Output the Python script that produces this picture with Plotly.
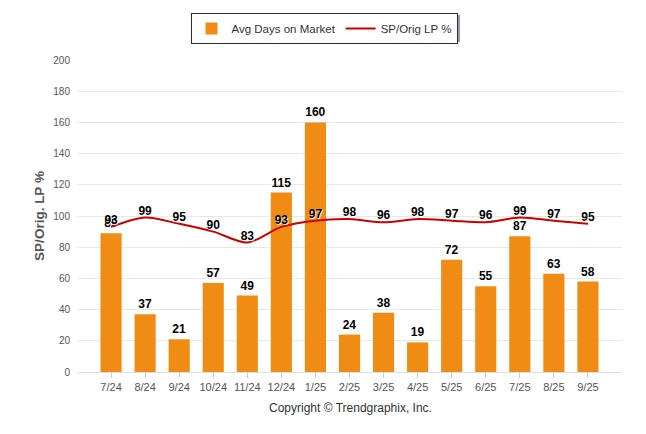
import plotly.graph_objects as go

months = ["7/24", "8/24", "9/24", "10/24", "11/24", "12/24", "1/25", "2/25",
          "3/25", "4/25", "5/25", "6/25", "7/25", "8/25", "9/25"]
avg_days = [89, 37, 21, 57, 49, 115, 160, 24, 38, 19, 72, 55, 87, 63, 58]
sp_orig_lp = [93, 99, 95, 90, 83, 93, 97, 98, 96, 98, 97, 96, 99, 97, 95]

xs = list(range(len(months)))

OFF = 8  # default page body margin
W, H = 646 - OFF, 434 - OFF
ml, mr, mt, mb = 77 - OFF, 24, 60 - OFF, 62

def px2paper_x(px):
    return (px - OFF - ml) / (W - ml - mr)

def px2paper_y(py):
    return (H - mb - (py - OFF)) / (H - mt - mb)

fig = go.Figure()
fig.add_trace(go.Bar(
    x=xs, y=avg_days, name="Avg Days on Market",
    marker=dict(color="#F08C14", line=dict(width=0)),
    width=0.62,
    text=[str(v) for v in avg_days], textposition="outside",
    textfont=dict(family="Liberation Sans, Arial", size=12, color="#000000", weight="bold"),
    cliponaxis=False,
))
fig.add_trace(go.Scatter(
    x=xs, y=sp_orig_lp, name="SP/Orig LP %",
    mode="lines+text",
    line=dict(color="#CC0000", width=2, shape="spline", smoothing=0.8),
    text=[str(v) for v in sp_orig_lp], textposition="top center",
    textfont=dict(family="Liberation Sans, Arial", size=12, color="#000000",
                  weight="bold", shadow="1px 1px 1px #ffffff"),
    cliponaxis=False,
))

# legend shadow
fig.add_shape(type="rect", xref="paper", yref="paper",
              x0=px2paper_x(192), x1=px2paper_x(460),
              y0=px2paper_y(42), y1=px2paper_y(15),
              fillcolor="#9a9a9a", line=dict(width=0), layer="below")

fig.update_layout(
    width=W, height=H,
    margin=dict(l=ml, r=mr, t=mt, b=mb, autoexpand=False),
    paper_bgcolor="white", plot_bgcolor="white",
    font=dict(family="Liberation Sans, Arial", color="#444444"),
    bargap=0.38,
    showlegend=True,
    legend=dict(
        orientation="h", x=px2paper_x(324), xanchor="center",
        y=px2paper_y(13), yanchor="top",
        bgcolor="white", bordercolor="#1F2A55", borderwidth=1,
        font=dict(size=11.5, color="#333333"),
        itemwidth=30, traceorder="normal",
    ),
    xaxis=dict(
        range=[-1, 15],
        tickmode="array", tickvals=xs, ticktext=months,
        showgrid=False, zeroline=False,
        showline=True, linecolor="#e0e0e0", linewidth=1,
        ticks="outside", ticklen=5, tickcolor="#cccccc",
        tickfont=dict(size=11, color="#555555"),
    ),
    yaxis=dict(
        range=[0, 200], dtick=20,
        showgrid=True, gridcolor="#e8e8e8", gridwidth=1,
        zeroline=False, showline=False,
        tickfont=dict(size=10, color="#555555"),
        ticks="", ticklabelstandoff=6,
        title=dict(text="SP/Orig. LP %", standoff=5,
                   font=dict(size=13.5, color="#555555", weight="bold")),
    ),
    annotations=[dict(
        text="Copyright © Trendgraphix, Inc.", xref="paper", yref="paper",
        x=px2paper_x(350), y=px2paper_y(408), xanchor="center", yanchor="middle",
        showarrow=False, font=dict(size=12, color="#333333"),
    )],
)

fig.write_html("out.html")
